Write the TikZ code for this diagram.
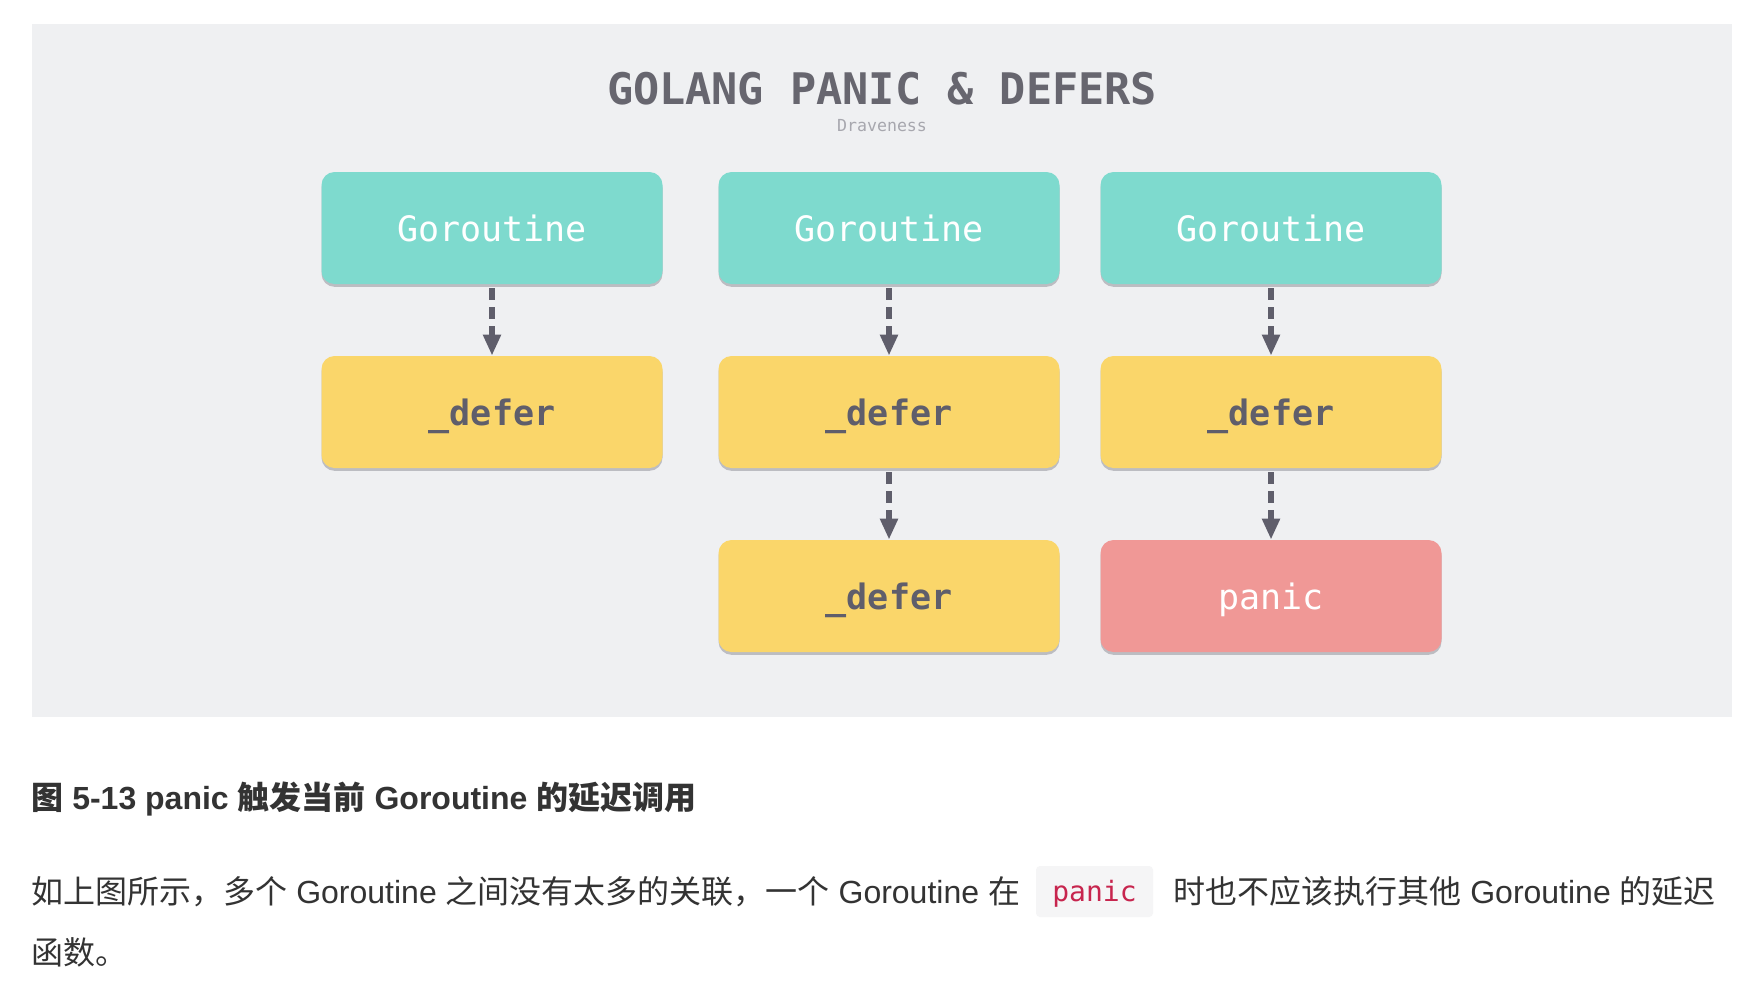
\documentclass[tikz,border=0pt]{standalone}
\usepackage{fontspec}
\setmainfont{Liberation Sans}
\newfontfamily\cjk{Noto Sans CJK SC}
\newfontfamily\gomono{DejaVu Sans Mono}
\usetikzlibrary{arrows.meta,shadows}

\definecolor{bggray}{HTML}{EFF0F2}
\definecolor{inkgray}{HTML}{5F5E6B}
\definecolor{titlegray}{HTML}{67666F}
\definecolor{gorteal}{HTML}{7EDACE}
\definecolor{deferyellow}{HTML}{FAD66A}
\definecolor{panicred}{HTML}{F09896}
\definecolor{codered}{HTML}{C7254E}
\definecolor{codebg}{HTML}{F5F5F6}
\definecolor{bodytext}{HTML}{333333}

\begin{document}
\begin{tikzpicture}[x=0.5pt,y=-0.5pt,
  box/.style={rounded corners=6.5pt,minimum width=170.5pt,minimum height=56pt,
    inner sep=0pt,text height=13.2pt,text depth=0pt,
    font=\gomono\fontsize{17.5}{20}\selectfont,
    drop shadow={shadow xshift=0pt,shadow yshift=-1.4pt,opacity=.35,fill=inkgray}},
  gorbox/.style={box,fill=gorteal,text=white},
  deferbox/.style={box,fill=deferyellow,text=inkgray,font=\gomono\bfseries\fontsize{17.5}{20}\selectfont},
  panicbox/.style={box,fill=panicred,text=white},
  flow/.style={draw=inkgray,line width=3pt,dash pattern=on 6pt off 3.5pt,
    shorten <=2pt,-{Triangle[width=8.5pt,length=10.5pt]}}]
  \useasboundingbox (0,0) rectangle (1748,986);
  \fill[white] (0,0) rectangle (1748,986);
  \fill[bggray] (32,24) rectangle (1732,717);

  \node[anchor=base,text=titlegray,font=\gomono\bfseries\fontsize{21.75}{26}\selectfont] (title) at (882,104) {GOLANG PANIC \& DEFERS};
  \node[anchor=base,text=inkgray!55,font=\gomono\fontsize{8.3}{10}\selectfont] (author) at (882,131) {Draveness};

  \node[gorbox] (gor1) at (492,228) {Goroutine};
  \node[gorbox] (gor2) at (889,228) {Goroutine};
  \node[gorbox] (gor3) at (1271,228) {Goroutine};
  \node[deferbox] (def1) at (492,412) {\_defer};
  \node[deferbox] (def2) at (889,412) {\_defer};
  \node[deferbox] (def3) at (1271,412) {\_defer};
  \node[deferbox] (def4) at (889,596) {\_defer};
  \node[panicbox] (pan) at (1271,596) {panic};

  \draw[flow] (gor1) -- (def1);
  \draw[flow] (gor2) -- (def2);
  \draw[flow] (gor3) -- (def3);
  \draw[flow] (def2) -- (def4);
  \draw[flow] (def3) -- (pan);

  \node[anchor=base west,inner sep=0pt,text=bodytext,font=\bfseries\fontsize{16}{19}\selectfont] (caption) at (31,809)
    {{\cjk\bfseries 图} 5-13 panic {\cjk\bfseries 触发当前} Goroutine {\cjk\bfseries 的延迟调用}};
  \node[anchor=base west,inner sep=0pt,text=bodytext,font=\fontsize{16}{19}\selectfont] (lineone) at (31,903)
    {{\cjk 如上图所示，多个} Goroutine {\cjk 之间没有太多的关联，一个} Goroutine {\cjk 在}};
  \node[rounded corners=2pt,fill=codebg,minimum width=58.5pt,minimum height=25.5pt,inner sep=0pt,
    text height=10pt,text depth=0pt,text=codered,font=\gomono\fontsize{14}{17}\selectfont] (code) at (1094.5,891.5) {panic};
  \node[anchor=base west,inner sep=0pt,text=bodytext,font=\fontsize{16}{19}\selectfont] (linerest) at (1173,903)
    {{\cjk 时也不应该执行其他} Goroutine {\cjk 的延迟}};
  \node[anchor=base west,inner sep=0pt,text=bodytext,font=\fontsize{16}{19}\selectfont] (linetwo) at (31,964)
    {{\cjk 函数。}};
\end{tikzpicture}
\end{document}
